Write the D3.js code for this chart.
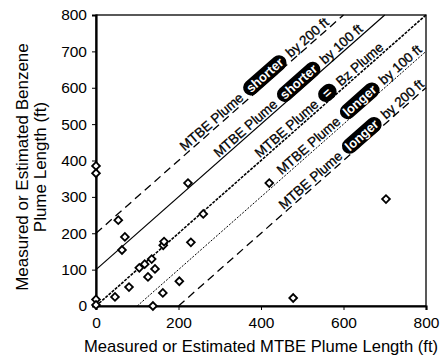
<!DOCTYPE html>
<html><head><meta charset="utf-8">
<script src="https://cdn.jsdelivr.net/npm/d3@7"></script>
<style>body{margin:0;background:#fff}</style>
</head><body>
<svg id="c" width="442" height="360"></svg>
<script>
const mtbe = [0,0,0,0,46,80,54,63,70,105,118,126,135,143,163,165,162,138,202,230,260,223,420,703,478];
const bz   = [385,365,18,3,25,52,236,154,190,105,115,80,129,102,167,177,36,0,68,175,253,338,338,294,22];
const xTicks = [0,200,400,600,800];
const yTicks = [0,100,200,300,400,500,600,700,800];
const lineOffsets = [200,100,0,-100,-200];
const lineStyles = ["8,5","none","3,1.2","2,1.5","8,5"];
const lineWidths = [1.3,1.2,1.6,1,1.3];
const labelPre = ["MTBE Plume","MTBE Plume","MTBE Plume","MTBE Plume","MTBE Plume"];
const labelOval = ["shorter","shorter","=","longer","longer"];
const labelPost = ["by 200 ft","by 100 ft","Bz Plume","by 100 ft","by 200 ft"];
const labelCenterX = [395,477,552,625,630];

const svg = d3.select("#c");
const x = d3.scaleLinear().domain([0,800]).range([96,426]);
const y = d3.scaleLinear().domain([0,800]).range([306,15]);
const font = "Liberation Sans, Arial, sans-serif";

// frame
svg.append("rect").attr("x",x(0)).attr("y",y(800)).attr("width",x(800)-x(0)).attr("height",y(0)-y(800))
  .attr("fill","none").attr("stroke","#000").attr("stroke-width",1.3);

// lines
lineOffsets.forEach((o,i)=>{
  const x0 = Math.max(0,-o), x1 = Math.min(800,800-o);
  svg.append("line").attr("x1",x(x0)).attr("y1",y(x0+o)).attr("x2",x(x1)).attr("y2",y(x1+o))
    .attr("stroke","#000").attr("stroke-width",lineWidths[i])
    .attr("stroke-dasharray",lineStyles[i]==="none"?null:lineStyles[i]);
});

// axes
const xa = svg.append("g").attr("transform",`translate(0,${y(0)})`)
  .call(d3.axisBottom(x).tickValues(xTicks).tickSize(4).tickPadding(7));
const ya = svg.append("g").attr("transform",`translate(${x(0)},0)`)
  .call(d3.axisLeft(y).tickValues(yTicks).tickSize(4).tickPadding(5));
[xa,ya].forEach(a=>{
  a.select(".domain").attr("stroke-width",2.2);
  a.selectAll("text").attr("font-family",font).attr("font-size",15.5).attr("fill","#000");
  a.selectAll("line").attr("stroke-width",1);
});

// titles
svg.append("text").attr("x",261).attr("y",352).attr("text-anchor","middle")
  .attr("font-family",font).attr("font-size",16.6).text("Measured or Estimated MTBE Plume Length (ft)");
const yt = svg.append("text").attr("transform","translate(28,167) rotate(-90)").attr("text-anchor","middle")
  .attr("font-family",font).attr("font-size",17);
yt.append("tspan").attr("x",0).attr("dy",0).text("Measured or Estimated Benzene");
yt.append("tspan").attr("x",0).attr("dy",18).text("Plume Length (ft)");

// labels
const ang = Math.atan2(y(100)-y(0), x(100)-x(0))*180/Math.PI;
const fs = 13.5;
const gap = 4.5;
labelOval.forEach((ov,i)=>{
  const cx = labelCenterX[i], cy = cx + lineOffsets[i];
  const g = svg.append("g").attr("transform",`translate(${x(cx)},${y(cy)}) rotate(${ang})`);
  const t1 = g.append("text").attr("font-family",font).attr("font-size",fs)
    .attr("stroke","#000").attr("stroke-width",0.3).text(labelPre[i]);
  const t2 = g.append("text").attr("font-family",font).attr("font-size",fs-0.5).attr("font-weight","bold").attr("fill","#fff").text(ov);
  const t3 = g.append("text").attr("font-family",font).attr("font-size",fs)
    .attr("stroke","#000").attr("stroke-width",0.3).text(labelPost[i]);
  const w1 = t1.node().getComputedTextLength();
  const w2 = t2.node().getComputedTextLength();
  const w3 = t3.node().getComputedTextLength();
  const pad = ov==="=" ? 6 : 4;
  const total = w1 + gap + w2 + 2*pad + gap + w3;
  const s = -total/2;
  const by = -2.5;
  t1.attr("x",s).attr("y",by);
  g.insert("rect",":nth-child(2)").attr("x",s+w1+gap).attr("y",by-12).attr("width",w2+2*pad).attr("height",15.5)
    .attr("rx",7.75).attr("fill","#000");
  t2.attr("x",s+w1+gap+pad).attr("y",by);
  t3.attr("x",s+w1+gap+w2+2*pad+gap).attr("y",by);
});

// points
const sym = d3.symbol().type(d3.symbolSquare).size(30);
svg.append("g").selectAll("path").data(mtbe.map((v,i)=>[v,bz[i]])).join("path")
  .attr("d",sym).attr("transform",d=>`translate(${x(d[0])},${y(d[1])}) rotate(45)`)
  .attr("fill","#fff").attr("stroke","#000").attr("stroke-width",1.8);
</script>
</body></html>
